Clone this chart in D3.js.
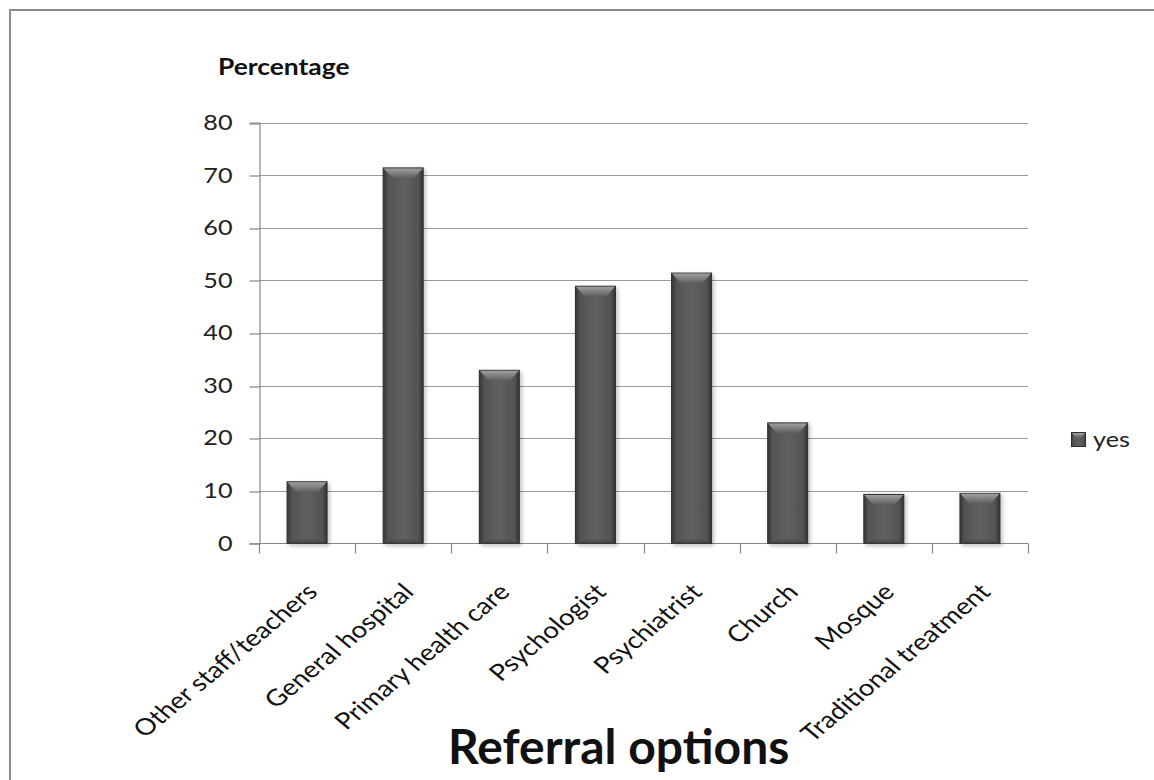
<!DOCTYPE html>
<html>
<head>
<meta charset="utf-8">
<script src="https://cdn.jsdelivr.net/npm/d3@7"></script>
<style>
  html, body { margin: 0; padding: 0; background: #fff; }
  svg { display: block; }
</style>
</head>
<body>
<svg id="chart" width="1154" height="780"></svg>
<script>
// Referral options chosen, percentage answering "yes"
const categories = [
  "Other staff/teachers",
  "General hospital",
  "Primary health care",
  "Psychologist",
  "Psychiatrist",
  "Church",
  "Mosque",
  "Traditional treatment"
];
const yesValues = [11.7, 71.4, 32.9, 48.9, 51.4, 22.9, 9.3, 9.5];
const yTicks = [0, 10, 20, 30, 40, 50, 60, 70, 80];
const seriesName = "yes";
const yTitle = "Percentage";
const xTitle = "Referral options";

const svg = d3.select("#chart");
const W = 1154, H = 780;
const plot = { left: 259, right: 1028, top: 122.7, bottom: 543.3 };

// Axis text is set in a humanist sans and widened horizontally
const font = "Lato, 'Open Sans', sans-serif";
const sx = 1.2;

// Defs: bar gradients and soft shadow
const defs = svg.append("defs");
const body = defs.append("linearGradient").attr("id", "barBody")
  .attr("x1", "0").attr("x2", "1").attr("y1", "0").attr("y2", "0");
[["0%", "#363636"], ["12%", "#535353"], ["50%", "#606060"], ["88%", "#535353"], ["100%", "#333"]]
  .forEach(([o, c]) => body.append("stop").attr("offset", o).attr("stop-color", c));
const bevel = defs.append("linearGradient").attr("id", "barBevel")
  .attr("x1", "0").attr("x2", "0").attr("y1", "0").attr("y2", "1");
[["0%", "#a0a0a0"], ["100%", "#5c5c5c"]]
  .forEach(([o, c]) => bevel.append("stop").attr("offset", o).attr("stop-color", c));
const base = defs.append("linearGradient").attr("id", "barBase")
  .attr("x1", "0").attr("x2", "0").attr("y1", "0").attr("y2", "1");
[["0%", "#5a5a5a"], ["100%", "#404040"]]
  .forEach(([o, c]) => base.append("stop").attr("offset", o).attr("stop-color", c));
const shadow = defs.append("filter").attr("id", "shadow")
  .attr("x", "-30%").attr("y", "-10%").attr("width", "160%").attr("height", "130%");
shadow.append("feGaussianBlur").attr("in", "SourceAlpha").attr("stdDeviation", 2.2).attr("result", "b");
shadow.append("feOffset").attr("dx", 1.5).attr("dy", 1.5).attr("result", "o");
shadow.append("feComponentTransfer").append("feFuncA").attr("type", "linear").attr("slope", 0.25);
const merge = shadow.append("feMerge");
merge.append("feMergeNode");
merge.append("feMergeNode").attr("in", "SourceGraphic");

// Chart-area frame (left and top edges visible)
svg.append("path")
  .attr("d", `M10,${H} V10 H${W}`)
  .attr("fill", "none").attr("stroke", "#8c8c8c").attr("stroke-width", 2);

const x = d3.scaleBand()
  .domain(categories)
  .range([plot.left, plot.right])
  .paddingInner(0.584)
  .paddingOuter(0.292);
const y = d3.scaleLinear()
  .domain([0, 80])
  .range([plot.bottom, plot.top]);

// Horizontal gridlines
svg.append("g").selectAll("line")
  .data(yTicks.filter(t => t > 0))
  .join("line")
  .attr("x1", plot.left).attr("x2", plot.right)
  .attr("y1", d => Math.round(y(d)) + 0.5).attr("y2", d => Math.round(y(d)) + 0.5)
  .attr("stroke", "#9a9a9a").attr("stroke-width", 1.2);

// Y axis
const yAxis = svg.append("g")
  .attr("transform", `translate(${plot.left + 0.5},0)`)
  .call(d3.axisLeft(y).tickValues(yTicks).tickSize(10).tickFormat(d3.format("d")));
yAxis.select(".domain").attr("stroke", "#888").attr("stroke-width", 1.2);
yAxis.selectAll(".tick line").attr("stroke", "#888").attr("stroke-width", 1.2)
  .attr("transform", d => `translate(0,${Math.round(y(d)) + 0.5 - y(d)})`);
yAxis.selectAll(".tick text")
  .attr("x", 0)
  .attr("transform", `translate(-27,0) scale(${sx},1)`)
  .attr("font-family", font).attr("font-size", 21).attr("fill", "#222");

// X axis line and category boundary ticks
const step = x.step();
const boundaries = d3.range(categories.length + 1).map(i => plot.left + i * step);
const xAxisY = Math.round(y(0)) + 0.5;
svg.append("line")
  .attr("x1", plot.left).attr("x2", plot.right)
  .attr("y1", xAxisY).attr("y2", xAxisY)
  .attr("stroke", "#888").attr("stroke-width", 1.2);
svg.append("g").selectAll("line")
  .data(boundaries)
  .join("line")
  .attr("x1", d => Math.round(d) + 0.5).attr("x2", d => Math.round(d) + 0.5)
  .attr("y1", xAxisY).attr("y2", xAxisY + 10)
  .attr("stroke", "#888").attr("stroke-width", 1.2);

// Bars with a bevelled top
const bw = x.bandwidth();
const bars = svg.append("g").selectAll("g")
  .data(categories.map((c, i) => ({ c, v: yesValues[i] })))
  .join("g")
  .attr("filter", "url(#shadow)");
bars.append("rect")
  .attr("x", d => x(d.c)).attr("width", bw)
  .attr("y", d => y(d.v)).attr("height", d => y(0) - y(d.v))
  .attr("fill", "url(#barBody)")
  .attr("stroke", "#2e2e2e").attr("stroke-width", 1);
bars.append("path")
  .attr("d", d => {
    const x0 = x(d.c) + 0.5, x1 = x(d.c) + bw - 0.5, t = y(d.v) + 0.5, h = 10;
    return `M${x0},${t} H${x1} L${x1 - 9},${t + h} H${x0 + 9} Z`;
  })
  .attr("fill", "url(#barBevel)");
bars.append("path")
  .attr("d", d => {
    const x0 = x(d.c) + 0.5, x1 = x(d.c) + bw - 0.5, b = y(0) - 0.5, h = 4;
    return `M${x0},${b} H${x1} L${x1 - 4},${b - h} H${x0 + 4} Z`;
  })
  .attr("fill", "url(#barBase)").attr("opacity", 0.8);

// Rotated category labels
svg.append("g").selectAll("text")
  .data(categories)
  .join("text")
  .attr("transform", d => `translate(${x(d) + bw / 2 + 12},${xAxisY + 50}) scale(${sx},1) rotate(-45)`)
  .attr("text-anchor", "end")
  .attr("font-family", font).attr("font-size", 23)
  .attr("fill", "#111")
  .text(d => d);

// Axis titles
svg.append("text")
  .attr("transform", `translate(218,75) scale(${sx},1)`)
  .attr("font-family", font).attr("font-weight", "bold").attr("font-size", 22)
  .attr("fill", "#111")
  .text(yTitle);
svg.append("text")
  .attr("x", 448).attr("y", 764)
  .attr("font-family", font).attr("font-weight", "bold").attr("font-size", 48).attr("fill", "#111")
  .text(xTitle);

// Legend
const lg = svg.append("g").attr("transform", "translate(1071,432)");
lg.append("rect").attr("x", 0.5).attr("y", 0.5).attr("width", 14).attr("height", 14)
  .attr("fill", "url(#barBody)").attr("stroke", "#2e2e2e");
lg.append("path").attr("d", "M1,1 H14 L10,6 H5 Z").attr("fill", "url(#barBevel)");
lg.append("text")
  .attr("transform", `translate(22,8) scale(${sx},1)`)
  .attr("dy", "0.35em")
  .attr("font-family", font).attr("font-size", 21).attr("fill", "#222")
  .text(seriesName);
</script>
</body>
</html>
